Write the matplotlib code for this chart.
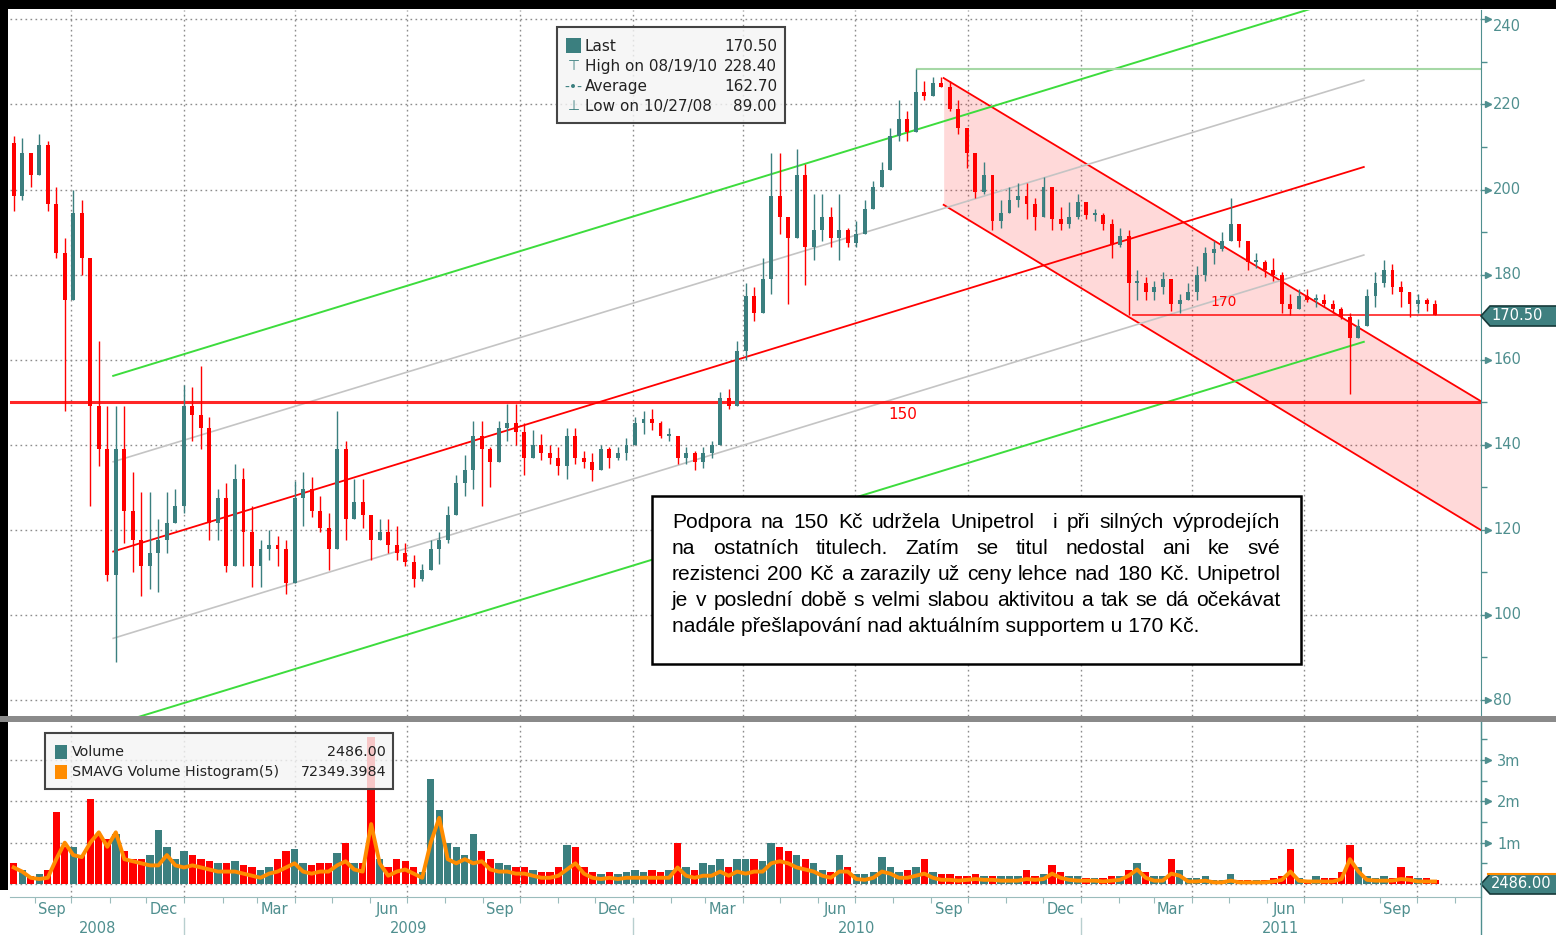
import numpy as np
import pandas as pd
import matplotlib
matplotlib.use("Agg")
import matplotlib.pyplot as plt
import matplotlib.dates as mdates
from matplotlib.patches import Rectangle, Polygon
from matplotlib.transforms import ScaledTranslation

# weekly candles of Unipetrol (CZK)
week_start, week_end = "2008-08-15", "2011-10-16"
first_open = 211.0
close = [198.5, 208.5, 203.5, 210.5, 196.5, 185, 174, 194.5, 184, 149,
         139, 109.5, 139, 124.5, 117.5, 111.5, 114.5, 117.5, 121.5, 125.5,
         149, 147, 144, 121.5, 127.5, 111.5, 132, 119.5, 111.5, 115.5,
         116.5, 115.5, 107.5, 127.5, 129.5, 124.5, 120.5, 115.5, 139, 122.5,
         126.5, 123.5, 117.5, 119.5, 116.5, 114.5, 112.5, 108.5, 110.5, 115.5,
         117.5, 123.5, 131, 134, 142, 139, 136, 144, 145, 143,
         137, 140, 138, 137, 135, 142, 137, 136, 134, 139,
         137, 138, 140, 145, 146, 145, 142, 142, 137, 138,
         136, 138, 140, 151, 149, 162, 175, 171, 179, 198.5,
         193.5, 188.5, 203.5, 186.5, 190.5, 193.5, 188.5, 190.5, 187.5, 189.5,
         195.5, 200.5, 204.5, 212.5, 216.5, 213.5, 223, 222, 225, 224,
         219, 214.5, 208.5, 199.5, 203.5, 192.5, 194.5, 197.5, 198.5, 196.5,
         193.5, 200.5, 193, 192, 193.5, 197, 194, 194, 192, 187,
         189, 178, 178, 176, 177, 179, 173, 174, 176, 180,
         185, 186, 188, 192, 188, 183, 183, 181, 180, 173,
         172, 175, 174, 174, 173, 172, 170, 165, 168, 175,
         178, 181, 177, 176, 173, 174, 173, 170.5]
high = [212.5, 212, 207.5, 213, 211.5, 200.5, 188.5, 200, 197.5, 180,
        164.5, 149, 149, 149, 133.5, 129, 129, 122.5, 129, 129.5,
        154, 153.5, 158.5, 146.5, 129.5, 131, 135.5, 134.5, 125.5, 117.5,
        120, 118.5, 117.5, 131.5, 133.5, 132.5, 128, 124, 148, 141,
        132, 132, 122.5, 122.5, 122.5, 121, 117, 114, 112, 117.5,
        119.5, 125.5, 133, 137.5, 145.5, 145.5, 139.5, 145.5, 149.5, 149.5,
        145, 143.5, 142.5, 140, 139.5, 144, 144, 138.5, 138, 140,
        139.5, 139.5, 141.5, 146.5, 148, 148.5, 145.5, 144, 141.5, 139.5,
        138.5, 139.5, 141, 152.5, 153, 164.5, 178, 177, 184, 208.5,
        208.5, 193.5, 209.5, 206, 199, 199, 196, 199, 191, 192.5,
        197.5, 202, 206.5, 214.5, 221, 218.5, 228.4, 225.5, 226.5, 226.5,
        225.5, 221, 214.5, 205, 206.5, 200.5, 197.5, 200.5, 201.5, 201.5,
        198, 203, 199, 196, 197, 199, 196, 195.5, 194.5, 193,
        191, 190.5, 181, 179.5, 178.5, 180.5, 176.5, 175.5, 178, 182,
        186.5, 188, 190, 198, 190, 187.5, 185, 183.5, 184, 180.5,
        175.5, 176.5, 176.5, 175.5, 175.5, 174, 172.5, 171, 169.5, 176.5,
        180.5, 183.5, 182.5, 178.5, 175.5, 175.5, 174.5, 174]
low = [195, 197.5, 200.5, 203.5, 195, 184, 148, 179.5, 180, 125.5,
       135, 108, 89, 117, 110, 104.5, 106, 105.5, 114.5, 121.5,
       124, 141, 139, 117.5, 117.5, 110, 117.5, 111.5, 106.5, 106.5,
       113, 111.5, 105, 116, 121, 123, 119.5, 110.5, 117.5, 117.5,
       124, 120.5, 113, 117.5, 114.5, 113, 111.5, 106.5, 108, 111.5,
       112, 117, 124, 128, 129.5, 125.5, 130, 137, 141, 140,
       133, 138.5, 136.5, 135.5, 133, 132, 135.5, 134.5, 131.5, 134.5,
       134.5, 136.5, 136.5, 141, 142.5, 143.5, 141.5, 141, 135.5, 135.5,
       134, 134.5, 137, 140, 148.5, 150, 160, 169, 174, 175.5,
       189.5, 173, 189.5, 177.5, 183.5, 188, 186.5, 183.5, 186.5, 186.5,
       189.5, 196, 200.5, 208.5, 211.5, 211.5, 218.5, 221, 224, 224,
       218.5, 213, 205, 198, 199, 190.5, 191, 194.5, 196, 193,
       190.5, 194.5, 190.5, 190.5, 191, 193, 193, 192.5, 190.5, 184,
       186.5, 170.5, 174, 174, 174, 175.5, 171.5, 171, 174, 174,
       178.5, 182.5, 185.5, 189.5, 186.5, 181, 181.5, 179.5, 178.5, 171,
       170.5, 173.5, 173.5, 172.5, 172.5, 171, 169.5, 152, 166, 169.5,
       172.5, 177, 175.5, 172.5, 170, 171, 171.5, 170.5]
# volume in millions of shares, and its 5-period average
volume = [0.5, 0.35, 0.2, 0.25, 0.35, 1.75, 0.9, 0.9, 0.7, 2.05,
          1.2, 1.1, 1.2, 0.8, 0.6, 0.6, 0.7, 1.3, 0.9, 0.6,
          0.8, 0.7, 0.6, 0.55, 0.5, 0.5, 0.55, 0.45, 0.4, 0.35,
          0.4, 0.6, 0.8, 0.85, 0.5, 0.45, 0.5, 0.5, 0.75, 1.0,
          0.5, 0.5, 3.55, 0.6, 0.4, 0.6, 0.55, 0.4, 0.3, 2.55,
          1.8, 1.0, 0.9, 0.7, 1.2, 0.8, 0.6, 0.5, 0.45, 0.4,
          0.4, 0.35, 0.3, 0.3, 0.4, 0.95, 0.9, 0.4, 0.3, 0.25,
          0.3, 0.25, 0.3, 0.35, 0.3, 0.35, 0.3, 0.35, 1.0, 0.4,
          0.35, 0.5, 0.45, 0.6, 0.4, 0.6, 0.6, 0.6, 0.55, 1.0,
          0.9, 0.8, 0.7, 0.6, 0.5, 0.35, 0.3, 0.7, 0.4, 0.25,
          0.25, 0.3, 0.65, 0.4, 0.3, 0.35, 0.4, 0.6, 0.3, 0.25,
          0.25, 0.2, 0.2, 0.25, 0.2, 0.2, 0.2, 0.2, 0.2, 0.35,
          0.2, 0.25, 0.45, 0.3, 0.2, 0.2, 0.15, 0.15, 0.15, 0.2,
          0.2, 0.35, 0.5, 0.3, 0.2, 0.2, 0.6, 0.35, 0.15, 0.15,
          0.2, 0.1, 0.1, 0.25, 0.1, 0.1, 0.1, 0.1, 0.15, 0.2,
          0.85, 0.15, 0.1, 0.2, 0.15, 0.15, 0.3, 0.95, 0.4, 0.2,
          0.15, 0.2, 0.15, 0.4, 0.2, 0.15, 0.15, 0.1]
smavg = [0.4, 0.3, 0.15, 0.12, 0.15, 0.6, 1.0, 0.7, 0.65, 1.0,
         1.25, 0.9, 1.25, 0.6, 0.55, 0.5, 0.45, 0.45, 0.7, 0.45,
         0.4, 0.45, 0.4, 0.35, 0.3, 0.3, 0.3, 0.25, 0.2, 0.15,
         0.25, 0.3, 0.4, 0.5, 0.3, 0.25, 0.3, 0.3, 0.45, 0.55,
         0.35, 0.3, 1.45, 0.5, 0.2, 0.3, 0.35, 0.25, 0.15, 1.0,
         1.6, 0.6, 0.5, 0.6, 0.5, 0.55, 0.35, 0.3, 0.3, 0.25,
         0.25, 0.2, 0.15, 0.15, 0.2, 0.35, 0.5, 0.25, 0.15, 0.12,
         0.15, 0.12, 0.15, 0.15, 0.15, 0.15, 0.15, 0.15, 0.4, 0.2,
         0.15, 0.2, 0.2, 0.3, 0.2, 0.3, 0.25, 0.3, 0.3, 0.5,
         0.55, 0.5, 0.4, 0.35, 0.3, 0.2, 0.15, 0.3, 0.3, 0.12,
         0.1, 0.15, 0.3, 0.25, 0.15, 0.15, 0.2, 0.25, 0.15, 0.1,
         0.1, 0.08, 0.1, 0.12, 0.1, 0.1, 0.08, 0.08, 0.08, 0.12,
         0.1, 0.12, 0.25, 0.15, 0.1, 0.08, 0.08, 0.08, 0.06, 0.08,
         0.1, 0.2, 0.35, 0.15, 0.08, 0.08, 0.25, 0.2, 0.06, 0.06,
         0.08, 0.04, 0.04, 0.08, 0.04, 0.04, 0.04, 0.04, 0.06, 0.1,
         0.3, 0.08, 0.06, 0.06, 0.06, 0.06, 0.12, 0.6, 0.3, 0.1,
         0.08, 0.08, 0.08, 0.12, 0.1, 0.06, 0.06, 0.06]

# drawn trend channel (dates, prices at both ends)
trend_dates = ["2008-11-04", "2011-08-19"]
trend_mid = [114.9, 205.3]
trend_gray_hi = [136.0, 225.7]
trend_gray_lo = [94.5, 184.6]
trend_green_hi = [156.2, 246.3]
trend_green_lo = [74.2, 164.2]
# falling channel
down_dates = ["2010-09-11", "2011-11-22"]
down_top = [226.2, 150.3]
down_bottom = [196.4, 120.0]
high_date, high_value = "2010-08-20", 228.4
support_170_date, support_170 = "2011-02-12", 170.5
support_150 = 150
price_ticks = list(range(80, 241, 20))

legend_rows = [("Last", "170.50"), ("High on 08/19/10", "228.40"),
               ("Average", "162.70"), ("Low on 10/27/08", "89.00")]
vol_rows = [("Volume", "2486.00"), ("SMAVG Volume Histogram(5)", "72349.3984")]
note_lines = [
    "Podpora na 150 Kč udržela Unipetrol  i při silných výprodejích",
    "na ostatních titulech. Zatím se titul nedostal ani ke své",
    "rezistenci 200 Kč a zarazily už ceny lehce nad 180 Kč. Unipetrol",
    "je v poslední době s velmi slabou aktivitou a tak se dá očekávat",
    "nadále přešlapování nad aktuálním supportem u 170 Kč.",
]

TEAL = "#3b7f7f"
RED = "#ff0000"
AXC = "#4f8f8f"
GRID = "#8c8c8c"
GREEN = "#3ddc3d"
ORANGE = "#ff8c00"

W, H = 1556, 935
fig = plt.figure(figsize=(W / 100, H / 100), dpi=100)


def fx(px):
    return px / W


def fy(py):
    return 1 - py / H


ax = fig.add_axes([fx(10), fy(716), fx(1480.5) - fx(10), fy(10) - fy(716)])
axv = fig.add_axes([fx(10), fy(897), fx(1480.5) - fx(10), fy(722) - fy(897)])

xw = mdates.date2num(pd.date_range(week_start, week_end, periods=len(close)))
x_left = mdates.date2num(pd.Timestamp("2008-08-12"))
x_right = mdates.date2num(pd.Timestamp("2011-11-22"))
dnum = lambda ds: mdates.date2num(pd.to_datetime(ds))

c = np.array(close)
o = np.r_[first_open, c[:-1]]
hi = np.maximum(np.array(high), np.maximum(o, c))
lo = np.minimum(np.array(low), np.minimum(o, c))
col = np.where(c >= o, TEAL, RED)

quarters = mdates.date2num(pd.date_range("2008-10-01", "2011-10-01", freq="QS"))
dots = (0, (1.2, 2.4))

# ---- price panel
for v in price_ticks:
    ax.axhline(v, color=GRID, ls=dots, lw=1, zorder=0.5)
for q in quarters:
    ax.axvline(q, color=GRID, ls=dots, lw=1, zorder=0.5)

dx = dnum(down_dates)
ax.fill_between(dx, down_bottom, down_top, color=RED, alpha=0.15, lw=0, zorder=1)
ax.plot(dx, down_top, color=RED, lw=1.3, zorder=2)
ax.plot(dx, down_bottom, color=RED, lw=1.3, zorder=2)

tx = dnum(trend_dates)
ax.plot(tx, trend_green_hi, color=GREEN, lw=1.4, zorder=2)
ax.plot(tx, trend_green_lo, color=GREEN, lw=1.4, zorder=2)
ax.plot(tx, trend_gray_hi, color="#c4c4c4", lw=1.2, zorder=2)
ax.plot(tx, trend_gray_lo, color="#c4c4c4", lw=1.2, zorder=2)
ax.plot(tx, trend_mid, color=RED, lw=1.3, zorder=2)

ax.plot([dnum(high_date), x_right], [high_value] * 2, color="#a6d8a6", lw=1.5, zorder=2)
ax.axhline(support_150, color=RED, lw=2.2, alpha=0.85, zorder=2)
ax.plot([dnum(support_170_date), x_right], [support_170] * 2, color=RED, lw=1.3, alpha=0.8, zorder=2)
ax.text(dnum("2010-08-09"), 147.0, "150", color=RED, fontsize=11, ha="center", va="center")
ax.text(dnum("2011-04-27"), 173.6, "170", color=RED, fontsize=10, ha="center", va="center")

ax.vlines(xw, lo, hi, colors=col, lw=1.0, zorder=4)
ax.bar(xw, np.maximum(np.abs(c - o), 0.5), bottom=np.minimum(o, c), width=3.2,
       color=col, lw=0, zorder=5)

ax.set_xlim(x_left, x_right)
ax.set_ylim(76.24, 242.2)
ax.set_xticks([])
ax.yaxis.tick_right()
ax.set_yticks(price_ticks)
ax.set_yticklabels([])
ax.set_yticks(range(90, 240, 20), minor=True)
ax.tick_params(axis="y", which="major", length=7, width=1, color=AXC)
ax.tick_params(axis="y", which="minor", length=4, width=1, color=AXC)
for s in ["left", "top", "bottom"]:
    ax.spines[s].set_visible(False)
ax.spines["right"].set_color(AXC)
arrow_tr = ax.get_yaxis_transform() + ScaledTranslation(0.07, 0, fig.dpi_scale_trans)
ax.plot([1.0] * len(price_ticks), price_ticks, ">", color=AXC, ms=5, transform=arrow_tr,
        clip_on=False)
for v in price_ticks:
    shift = -0.07 if v == 240 else 0.0
    tr = ax.get_yaxis_transform() + ScaledTranslation(0.125, shift, fig.dpi_scale_trans)
    ax.text(1.0, v, str(v), transform=tr, color=AXC, fontsize=10.5, ha="left", va="center",
            clip_on=False)

# ---- volume panel
for v in [0, 1, 2, 3]:
    axv.axhline(v, color=GRID, ls=dots, lw=1, zorder=0.5)
for q in quarters:
    axv.axvline(q, color=GRID, ls=dots, lw=1, zorder=0.5)
axv.bar(xw, volume, width=6.0, color=col, lw=0, zorder=3)
axv.plot(xw, smavg, color=ORANGE, lw=2.8, zorder=4, solid_joinstyle="round")
axv.set_xlim(x_left, x_right)
axv.set_ylim(-0.315, 3.92)
months = mdates.date2num(pd.date_range("2008-09-01", "2011-11-01", freq="MS"))
axv.set_xticks(months)
axv.set_xticklabels([])
axv.tick_params(axis="x", length=4, color="#9bbcbc", direction="out")
axv.yaxis.tick_right()
axv.set_yticks([1, 2, 3])
axv.set_yticklabels(["1m", "2m", "3m"])
axv.set_yticks([0.5, 1.5, 2.5, 3.5], minor=True)
axv.tick_params(axis="y", which="major", length=7, width=1, color=AXC, labelcolor=AXC,
                labelsize=10.5, pad=5)
axv.tick_params(axis="y", which="minor", length=4, width=1, color=AXC)
for s in ["left", "top"]:
    axv.spines[s].set_visible(False)
axv.spines["right"].set_color(AXC)
axv.spines["bottom"].set_color("#9bbcbc")
arrow_trv = axv.get_yaxis_transform() + ScaledTranslation(0.07, 0, fig.dpi_scale_trans)
axv.plot([1.0] * 3, [1, 2, 3], ">", color=AXC, ms=5, transform=arrow_trv, clip_on=False)

xt = axv.get_xaxis_transform()
for d, name in [("2008-09-15", "Sep"), ("2008-12-15", "Dec"), ("2009-03-15", "Mar"),
                ("2009-06-15", "Jun"), ("2009-09-15", "Sep"), ("2009-12-15", "Dec"),
                ("2010-03-15", "Mar"), ("2010-06-15", "Jun"), ("2010-09-15", "Sep"),
                ("2010-12-15", "Dec"), ("2011-03-15", "Mar"), ("2011-06-15", "Jun"),
                ("2011-09-15", "Sep")]:
    axv.text(dnum(d), -0.07, name, transform=xt, ha="center", va="center", color=AXC,
             fontsize=10.5, clip_on=False)
for y0, y1, yr in [(x_left, dnum("2009-01-01"), "2008"),
                   (dnum("2009-01-01"), dnum("2010-01-01"), "2009"),
                   (dnum("2010-01-01"), dnum("2011-01-01"), "2010"),
                   (dnum("2011-01-01"), x_right, "2011")]:
    axv.text((y0 + y1) / 2, -0.18, yr, transform=xt, ha="center", va="center", color=AXC,
             fontsize=10.5, clip_on=False)
for yb in ["2009-01-01", "2010-01-01", "2011-01-01"]:
    axv.plot([dnum(yb)] * 2, [-0.12, -0.23], color="#b8cfcf", lw=1, transform=xt,
             clip_on=False)

# ---- frame decorations
fig.add_artist(Rectangle((0, fy(9)), 1, fy(0) - fy(9), transform=fig.transFigure,
                         fc="black", ec="none"))
fig.add_artist(Rectangle((0, fy(890)), fx(8), fy(0) - fy(890), transform=fig.transFigure,
                         fc="black", ec="none"))
fig.add_artist(Rectangle((0, fy(722)), 1, fy(716) - fy(722), transform=fig.transFigure,
                         fc="#8a8a8a", ec="none"))
fig.add_artist(plt.Line2D([fx(1480.5)] * 2, [0, fy(722)], transform=fig.transFigure,
                          color=AXC, lw=1))


def value_tag(yc, label, top_color=None):
    pts = [(1481, yc), (1490, yc - 10), (1560, yc - 10), (1560, yc + 10), (1490, yc + 10)]
    fig.add_artist(Polygon([(fx(a), fy(b)) for a, b in pts], closed=True,
                           transform=fig.transFigure, fc="#3f8080", ec="#173a3a", lw=1.2))
    if top_color:
        fig.add_artist(plt.Line2D([fx(1488), fx(1556)], [fy(yc - 10.5)] * 2,
                                  transform=fig.transFigure, color=top_color, lw=1.5))
    fig.text(fx(1491), fy(yc), label, color="white", fontsize=10.5, va="center", ha="left")


value_tag(316, "170.50")
value_tag(884, "2486.00", ORANGE)

# price legend
fig.add_artist(Rectangle((fx(557), fy(123)), fx(785) - fx(557), fy(27) - fy(123),
                         transform=fig.transFigure, fc=(0.955, 0.955, 0.955, 0.82),
                         ec="#444444", lw=1.5))
fig.add_artist(Rectangle((fx(566), fy(53)), fx(581) - fx(566), fy(38) - fy(53),
                         transform=fig.transFigure, fc=TEAL, ec="none"))
icons = [None, "\u22a4", "-\u2022-", "\u22a5"]
for i, (lab, val) in enumerate(legend_rows):
    yy = fy(46.5 + 20 * i)
    if icons[i]:
        fig.text(fx(573.5), yy, icons[i], color=TEAL, fontsize=10, ha="center", va="center")
    fig.text(fx(585), yy, lab, color="#222222", fontsize=11, ha="left", va="center")
    fig.text(fx(777), yy, val, color="#222222", fontsize=11, ha="right", va="center")

# volume legend
fig.add_artist(Rectangle((fx(44.5), fy(789)), fx(393) - fx(44.5), fy(732.5) - fy(789),
                         transform=fig.transFigure, fc=(0.955, 0.955, 0.955, 0.82),
                         ec="#444444", lw=1.5))
for i, ((lab, val), cc) in enumerate(zip(vol_rows, [TEAL, ORANGE])):
    yy = 751.5 + 20.5 * i
    fig.add_artist(Rectangle((fx(55), fy(yy + 7)), fx(12), fy(yy - 7) - fy(yy + 7),
                             transform=fig.transFigure, fc=cc, ec="none"))
    fig.text(fx(72), fy(yy), lab, color="#222222", fontsize=10.3, ha="left", va="center")
    fig.text(fx(386), fy(yy), val, color="#222222", fontsize=10.3, ha="right", va="center")

# comment box with justified text
fig.add_artist(Rectangle((fx(652), fy(664)), fx(1301) - fx(652), fy(496) - fy(664),
                         transform=fig.transFigure, fc="white", ec="black", lw=1.8,
                         zorder=6))
renderer = fig.canvas.get_renderer()
box_font = dict(family="Liberation Sans", color="black", zorder=7)


def text_width(s, size):
    if not s:
        return 0.0
    t = fig.text(0, 0, s, fontsize=size, **box_font)
    w = t.get_window_extent(renderer).width
    t.remove()
    return w


size = 15 * 530 / text_width(note_lines[-1], 15)
for i, line in enumerate(note_lines):
    yb = fy(528 + 26 * i)
    if i == len(note_lines) - 1:
        fig.text(fx(672), yb, line, fontsize=size, va="baseline", **box_font)
        continue
    words = line.split(" ")
    ws = [text_width(w, size) for w in words]
    gap = (608 - sum(ws)) / (len(words) - 1)
    x = 672
    for w, wd in zip(words, ws):
        if w:
            fig.text(fx(x), yb, w, fontsize=size, va="baseline", **box_font)
        x += wd + gap

fig.savefig("out.png", dpi=100, facecolor="white")
